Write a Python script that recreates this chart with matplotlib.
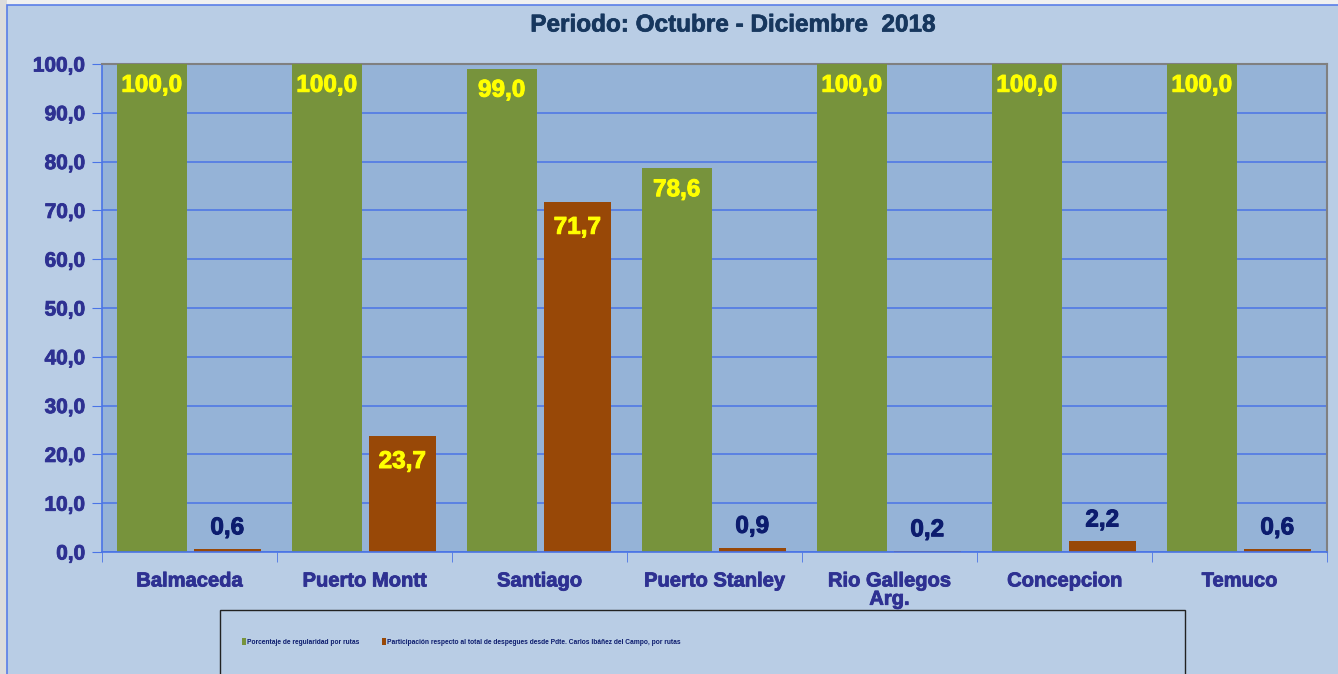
import matplotlib
matplotlib.use("Agg")
import matplotlib.pyplot as plt
from matplotlib.patches import Rectangle, Patch
from matplotlib import font_manager
import matplotlib.patheffects as pe
import numpy as np

categorias = ["Balmaceda", "Puerto Montt", "Santiago", "Puerto Stanley",
              "Rio Gallegos\nArg.", "Concepcion", "Temuco"]
regularidad = [100.0, 100.0, 99.0, 78.6, 100.0, 100.0, 100.0]
participacion = [0.6, 23.7, 71.7, 0.9, 0.2, 2.2, 0.6]
y_ticks = [0, 10, 20, 30, 40, 50, 60, 70, 80, 90, 100]

serie_verde = "Porcentaje de regularidad por rutas"
serie_naranja = ("Participación respecto al total de despegues desde Pdte. "
                 "Carlos Ibáñez del Campo, por rutas")

GREEN = "#77933c"
ORANGE = "#984807"
FIG_BG = "#b9cde5"
AX_BG = "#95b3d7"
GRID = "#4a74e6"
TICK_COLOR = "#2e3192"
NAVY = "#0c1c6e"
YELLOW = "#ffff00"

plt.rcParams["font.family"] = ["Liberation Sans", "DejaVu Sans"]

names = {f.name for f in font_manager.fontManager.ttflist}
narrow = "Liberation Sans Narrow" if "Liberation Sans Narrow" in names else "Liberation Sans"
leg_size = 5.8 if narrow == "Liberation Sans Narrow" else 4.8

def heavy(color, lw=0.7):
    return [pe.Stroke(linewidth=lw, foreground=color), pe.Normal()]

W, H = 1338, 674
fig = plt.figure(figsize=(W / 100, H / 100), dpi=100)
fig.patch.set_facecolor("#f0f0f0")
fig.patches.append(Rectangle((0, 0), 7 / W, 1, transform=fig.transFigure,
                             facecolor="#dcdcdc", edgecolor="none", zorder=-10))
fig.patches.append(Rectangle((7 / W, -0.01), 1, 1 - 5 / H + 0.01,
                             transform=fig.transFigure, facecolor=FIG_BG,
                             edgecolor="#5a7ee8", linewidth=1.2, zorder=-9))

ax = fig.add_axes([102 / W, 1 - 552 / H, (1327 - 102) / W, (552 - 64) / H])
ax.set_facecolor(AX_BG)

x = np.arange(len(categorias))
off = 0.216
bw_g = 0.40
bw_o = 0.385
ax.bar(x - off, regularidad, width=bw_g, color=GREEN, zorder=3)
ax.bar(x + off, participacion, width=bw_o, color=ORANGE, zorder=3)

def fmt(v):
    return f"{v:.1f}".replace(".", ",")

for xi, v in zip(x - off, regularidad):
    ax.text(xi, v - 2.0, fmt(v), ha="center", va="top", color=YELLOW,
            fontsize=17.5, fontweight="bold", zorder=4,
            path_effects=heavy(YELLOW))
for xi, v in zip(x + off, participacion):
    if v > 10:
        ax.text(xi, v - 2.8, fmt(v), ha="center", va="top", color=YELLOW,
                fontsize=17.5, fontweight="bold", zorder=4,
                path_effects=heavy(YELLOW))
    else:
        ax.text(xi, v + 2.0, fmt(v), ha="center", va="bottom", color=NAVY,
                fontsize=17.5, fontweight="bold", zorder=4,
                path_effects=heavy(NAVY))

ax.set_xlim(-0.5, len(categorias) - 0.5)
ax.set_ylim(0, 100)
ax.set_yticks(y_ticks)
ax.set_yticklabels([fmt(t) for t in y_ticks], color=TICK_COLOR,
                   fontsize=15, fontweight="bold")
ax.set_xticks(x)
ax.set_xticklabels(categorias, color=TICK_COLOR, fontsize=14.5,
                   fontweight="bold", linespacing=0.95, va="top")
for lab in ax.get_xticklabels() + ax.get_yticklabels():
    lab.set_path_effects(heavy(TICK_COLOR, 0.6))
ax.tick_params(axis="x", length=0, pad=14)
ax.set_xticks(np.arange(len(categorias) + 1) - 0.5, minor=True)
ax.tick_params(axis="x", which="minor", length=7, color=GRID, direction="out")
ax.tick_params(axis="y", length=7, color=GRID, direction="out", pad=5)

ax.yaxis.grid(True, color=GRID, linewidth=1.1, zorder=1)
ax.set_axisbelow(True)
for side in ("left", "bottom"):
    ax.spines[side].set_color(GRID)
    ax.spines[side].set_linewidth(1.2)
for side in ("top", "right"):
    ax.spines[side].set_color("#808080")
    ax.spines[side].set_linewidth(1.5)
ax.spines["bottom"].set_zorder(5)

fig.text(733 / W, 1 - 25 / H, "Periodo: Octubre - Diciembre  2018",
         ha="center", va="center", fontsize=17.5, fontweight="bold",
         color="#17375e", path_effects=heavy("#17375e", 0.5))

# legend box
fig.patches.append(Rectangle((220 / W, -0.01), (1185 - 220) / W,
                             1 - 610 / H + 0.01, transform=fig.transFigure,
                             facecolor=FIG_BG, edgecolor="#222222",
                             linewidth=1.0, zorder=-5))
handles = [Patch(facecolor=GREEN), Patch(facecolor=ORANGE)]
leg = fig.legend(handles, [serie_verde, serie_naranja], ncol=2,
                 loc="center left", bbox_to_anchor=(236 / W, 1 - 642 / H),
                 frameon=False, handlelength=0.6, handleheight=1.3,
                 handletextpad=0.15, columnspacing=3.4,
                 prop={"family": [narrow, "DejaVu Sans"],
                       "weight": "bold", "size": leg_size})
for t in leg.get_texts():
    t.set_color(NAVY)

fig.savefig("out.png", dpi=100, facecolor=fig.get_facecolor())
